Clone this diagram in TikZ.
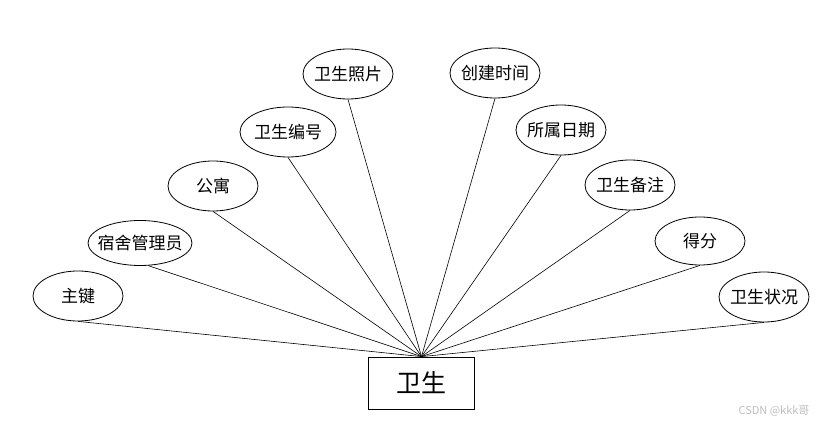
\documentclass[tikz,border=0pt]{standalone}
\usepackage{fontspec}
\newfontfamily\cjk{Noto Sans CJK SC}
\usetikzlibrary{shapes.geometric}
\begin{document}
\begin{tikzpicture}[x=1pt,y=-1pt,
  attr/.style={ellipse, draw, line width=0.8pt, inner sep=0pt,
    minimum width=90pt, minimum height=50pt,
    font=\cjk\fontsize{17}{17}\selectfont},
  entity/.style={rectangle, draw, line width=0.8pt, inner sep=0pt,
    minimum width=106pt, minimum height=52pt,
    font=\cjk\fontsize{25}{25}\selectfont},
  link/.style={line width=0.6pt}]
\useasboundingbox (0,0) rectangle (832,427);
\fill[white] (0,0) rectangle (832,427);
\node[entity] (w) at (421.5,383) {卫生};
\node[attr] (a1) at (78,296) {\makebox[0pt]{主键}};
\node[attr, minimum width=104pt, minimum height=45pt] (a2) at (140,243) {\makebox[0pt]{宿舍管理员}};
\node[attr] (a3) at (213,186) {\makebox[0pt]{公寓}};
\node[attr, minimum width=96pt] (a4) at (288,132) {\makebox[0pt]{卫生编号}};
\node[attr] (a5) at (348,74) {\makebox[0pt]{卫生照片}};
\node[attr] (a6) at (495,73) {\makebox[0pt]{创建时间}};
\node[attr] (a7) at (561,130) {\makebox[0pt]{所属日期}};
\node[attr] (a8) at (630,185) {\makebox[0pt]{卫生备注}};
\node[attr, minimum height=48pt] (a9) at (700,241) {\makebox[0pt]{得分}};
\node[attr] (a10) at (764,297) {\makebox[0pt]{卫生状况}};
\foreach \n in {a1,a3,a4,a5,a6,a7,a8,a9,a10}
  \draw[link] (\n.south) -- (w.north);
\draw[link] (a2.-70) -- (w.north);
\node[text=black!25, font=\cjk\fontsize{11}{11}\selectfont, inner sep=0pt] (wm) at (774,411) {CSDN @kkk哥};
\end{tikzpicture}
\end{document}
